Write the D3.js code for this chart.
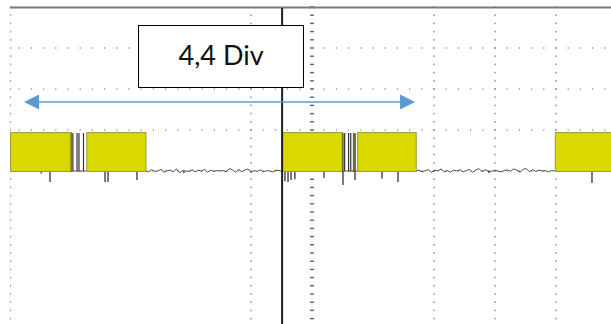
<!DOCTYPE html>
<html><head><meta charset="utf-8">
<script src="https://cdn.jsdelivr.net/npm/d3@7/dist/d3.min.js"></script>
<style>html,body{margin:0;padding:0;background:#fff;}svg{display:block;}</style>
</head><body>
<svg id="c" width="611" height="324"></svg>
<script>
// ---- data (oscilloscope divisions) ----
const dotColumnsDiv = [4, 7, 8, 9];          // dotted vertical graticule lines
const dotRowsDiv = [3, 2, 1, 0];             // dotted horizontal graticule lines (upper half)
const centerAxisDiv = 5;                     // centre axis with minor ticks
const triggerDiv = 4.51;                     // solid vertical marker
const bursts = [[0.05, 1.05], [1.30, 2.27], [4.51, 5.49], [5.74, 6.70], [8.98, 10.2]];
const burstLevel = 0.95;
const gapEdges = [1.08, 1.148, 1.18, 1.254, 5.535, 5.60, 5.635];
const gapBands = [[1.04, 1.06], [5.49, 5.52], [5.67, 5.72]];
const noiseSegments = [[2.27, 4.51], [6.70, 8.98]];
const noiseValues1 = [0.01,-0.02,0.03,-0.01,0.0,0.04,-0.03,0.01,0.02,-0.02,0.05,-0.04,0.01,0.0,-0.01,0.03,-0.02,0.02,0.0,0.04,-0.03,0.02,-0.01,0.01,0.0,0.01,-0.02,0.06,0.03,-0.03,0.04,-0.02,0.02,0.05,-0.04,0.01,-0.01,0.03,-0.02,0.01,0.0,-0.02,0.02,0.01,0.0];
const noiseValues2 = [0.0,0.02,-0.02,0.01,0.03,-0.03,0.02,0.0,0.05,-0.02,0.01,-0.03,0.02,0.0,0.03,-0.02,0.01,0.04,-0.03,0.02,0.06,-0.02,0.03,0.0,-0.01,0.02,0.0,-0.02,0.01,0.03,-0.01,0.05,0.02,-0.03,0.04,0.06,-0.02,0.03,-0.01,0.02,0.0,0.01,-0.02,0.01,0.0];
const spikes = [[0.705,0.27],[1.607,0.27],[1.656,0.27],[2.131,0.22],[4.557,0.25],[4.607,0.27],[4.656,0.22],[4.72,0.2],[5.197,0.17],[5.508,0.34],[5.705,0.22],[6.148,0.18],[6.41,0.27],[9.59,0.29],[0.56,0.06],[2.9,0.05],[7.9,0.05]];
const annotationText = "4,4 Div";
const arrowSpanDiv = [0.28, 6.69];

// ---- scales ----
const svg = d3.select("#c");
const x = d3.scaleLinear().domain([0, 10]).range([7, 617]);
const y = d3.scaleLinear().domain([-4, 4]).range([335, 7]);
const clipLeft = 10, W = 611, H = 324;

svg.append("defs").append("clipPath").attr("id", "scr")
  .append("rect").attr("x", clipLeft).attr("y", 0).attr("width", W - clipLeft).attr("height", H);
const g = svg.append("g").attr("clip-path", "url(#scr)");

const dotCol = "#7a7a7a";
// graticule dots
const rowXs = d3.range(0, 10.01, 0.2);
dotRowsDiv.forEach(r => {
  g.selectAll(null).data(rowXs).enter().append("rect")
    .attr("x", d => x(d) - 0.6).attr("y", y(r) - 0.6).attr("width", 1.2).attr("height", 1.2)
    .attr("fill", dotCol);
});
const colYs = d3.range(-4, 4.01, 0.2);
dotColumnsDiv.forEach(c => {
  g.selectAll(null).data(colYs).enter().append("rect")
    .attr("x", x(c) - 0.6).attr("y", d => y(d) - 0.8).attr("width", 1.2).attr("height", 1.6)
    .attr("fill", dotCol);
});
g.selectAll(null).data(colYs).enter().append("rect")
  .attr("x", x(centerAxisDiv) - 2).attr("y", d => y(d) - 0.7).attr("width", 4).attr("height", 1.4)
  .attr("fill", "#666");
// left edge dots
g.selectAll(null).data(colYs).enter().append("rect")
  .attr("x", clipLeft).attr("y", d => y(d) - 0.8).attr("width", 1.2).attr("height", 1.6)
  .attr("fill", "#999");

// top border
g.append("line").attr("x1", clipLeft).attr("x2", W).attr("y1", y(4) + 0.5).attr("y2", y(4) + 0.5)
  .attr("stroke", "#7a7a7a").attr("stroke-width", 2);

// baseline noise traces
const noiseVals = [noiseValues1, noiseValues2];
noiseSegments.forEach((seg, i) => {
  const vals = noiseVals[i];
  const t = d3.scaleLinear().domain([0, vals.length - 1]).range(seg);
  const line = d3.line().x((d, j) => x(t(j))).y(d => y(d)).curve(d3.curveLinear);
  g.append("path").attr("d", line(vals)).attr("fill", "none")
    .attr("stroke", "#4a4a3a").attr("stroke-width", 1);
});

// spikes below baseline
g.selectAll(null).data(spikes).enter().append("line")
  .attr("x1", d => x(d[0])).attr("x2", d => x(d[0]))
  .attr("y1", y(0)).attr("y2", d => y(-d[1]))
  .attr("stroke", "#222").attr("stroke-width", 1.2);

// bursts
g.selectAll(null).data(bursts).enter().append("rect")
  .attr("x", d => x(d[0]) + 0.5).attr("y", y(burstLevel) + 0.5)
  .attr("width", d => x(d[1]) - x(d[0])).attr("height", y(0) - y(burstLevel))
  .attr("fill", "#d9d900").attr("stroke", "#9a9a40").attr("stroke-width", 1);

// gap region pulses
g.selectAll(null).data(gapBands).enter().append("rect")
  .attr("x", d => x(d[0])).attr("y", y(burstLevel) + 1)
  .attr("width", d => x(d[1]) - x(d[0])).attr("height", y(0) - y(burstLevel))
  .attr("fill", "#6d6d30");
g.selectAll(null).data(gapEdges).enter().append("line")
  .attr("x1", d => x(d)).attr("x2", d => x(d))
  .attr("y1", y(burstLevel) + 1).attr("y2", y(0) + 0.5)
  .attr("stroke", "#333").attr("stroke-width", 1.2);
[[1.06, 1.30], [5.49, 5.74]].forEach(s => {
  g.append("line").attr("x1", x(s[0])).attr("x2", x(s[1])).attr("y1", y(0)).attr("y2", y(0))
    .attr("stroke", "#555").attr("stroke-width", 1);
});

// trigger marker
g.append("line").attr("x1", x(triggerDiv)).attr("x2", x(triggerDiv))
  .attr("y1", y(4) + 1).attr("y2", H)
  .attr("stroke", "#1e1e1e").attr("stroke-width", 2);

// annotation box
const bx0 = x(2.148), bx1 = x(4.852), by0 = y(3.56), by1 = y(2.05);
svg.append("rect").attr("x", Math.round(bx0) + 0.5).attr("y", Math.round(by0) + 0.5)
  .attr("width", Math.round(bx1 - bx0)).attr("height", Math.round(by1 - by0))
  .attr("fill", "#fff").attr("stroke", "#000").attr("stroke-width", 1);
svg.append("text").attr("x", x(3.51)).attr("y", y(2.585))
  .attr("text-anchor", "middle").attr("font-family", "Lato, 'Open Sans', sans-serif")
  .attr("font-size", 27).attr("fill", "#111").text(annotationText);

// double arrow
const ay = y(1.68), ax0 = x(arrowSpanDiv[0]), ax1 = x(arrowSpanDiv[1]);
const blue = "#5b9bd5";
svg.append("line").attr("x1", ax0 + 10).attr("x2", ax1 - 10).attr("y1", ay).attr("y2", ay)
  .attr("stroke", blue).attr("stroke-width", 1.5);
svg.append("path").attr("d", `M${ax0},${ay} L${ax0 + 15},${ay - 7.5} L${ax0 + 15},${ay + 7.5} Z`).attr("fill", blue);
svg.append("path").attr("d", `M${ax1},${ay} L${ax1 - 15},${ay - 7.5} L${ax1 - 15},${ay + 7.5} Z`).attr("fill", blue);
</script>
</body></html>
